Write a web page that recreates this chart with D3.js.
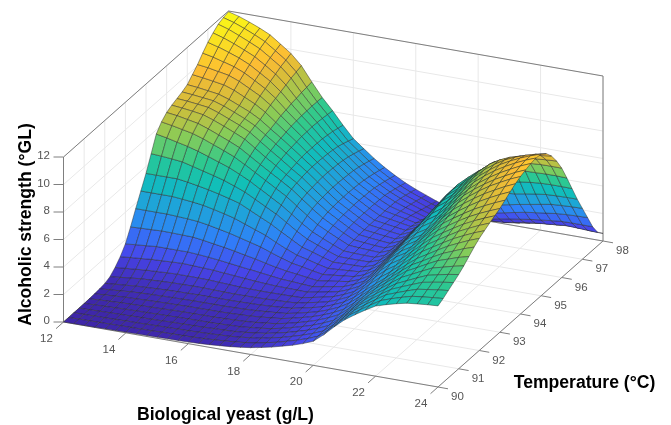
<!DOCTYPE html>
<html><head><meta charset="utf-8">
<script src="https://cdn.jsdelivr.net/npm/d3@7/dist/d3.min.js"></script>
<style>html,body{margin:0;padding:0;background:#fff}svg{display:block;filter:blur(.35px)}text{font-family:"Liberation Sans",Arial,sans-serif}</style>
</head><body><svg id="c" width="671" height="425"></svg>
<script>
const yeastTicks=[12,14,16,18,20,22,24];
const tempTicks=[90,91,92,93,94,95,96,97,98];
const alcoholTicks=[0,2,4,6,8,10,12];
const axisTitles=["Biological yeast (g/L)","Temperature (°C)","Alcoholic strength (°GL)"];
// one row per yeast step of 1/3 g/L, one value per temperature step of 0.25 °C
const alcoholRows=[
[0,0,.01,.01,.02,.03,.06,.09,.15,.3,.65,1.1,1.7,2.6,3.6,4.55,5.5,6.6,7.7,8.25,8.6,8.8,8.95,9.1,9.3,9.7,10.1,10.6,11.05,11.4,11.7,11.85,11.95],
[.01,.01,.02,.03,.05,.07,.11,.15,.22,.39,.72,1.17,1.77,2.64,3.6,4.55,5.5,6.55,7.55,8.12,8.5,8.72,8.89,9.03,9.22,9.6,10.0,10.44,10.84,11.17,11.46,11.63,11.74],
[.01,.02,.03,.05,.07,.1,.15,.2,.28,.47,.78,1.23,1.83,2.67,3.6,4.55,5.5,6.48,7.37,7.96,8.35,8.62,8.8,8.94,9.11,9.48,9.85,10.22,10.58,10.88,11.14,11.33,11.46],
[.02,.03,.04,.07,.1,.14,.2,.27,.35,.55,.85,1.3,1.9,2.7,3.6,4.55,5.5,6.4,7.2,7.8,8.2,8.5,8.7,8.85,9.0,9.35,9.7,10.0,10.3,10.55,10.8,11.0,11.15],
[.03,.04,.05,.08,.12,.16,.22,.3,.38,.58,.88,1.33,1.9,2.69,3.56,4.48,5.39,6.2,6.98,7.55,7.93,8.24,8.44,8.6,8.75,9.08,9.4,9.68,9.95,10.2,10.44,10.63,10.79],
[.04,.05,.07,.1,.14,.18,.25,.33,.42,.62,.92,1.37,1.9,2.67,3.51,4.4,5.25,6.0,6.72,7.25,7.62,7.93,8.12,8.28,8.43,8.72,9.0,9.25,9.48,9.71,9.93,10.1,10.25],
[.05,.06,.08,.11,.15,.2,.27,.35,.45,.65,.95,1.4,1.9,2.65,3.45,4.3,5.1,5.8,6.45,6.95,7.3,7.6,7.8,7.95,8.1,8.35,8.6,8.8,9.0,9.2,9.4,9.55,9.7],
[.06,.07,.09,.12,.17,.22,.29,.37,.47,.66,.94,1.37,1.85,2.55,3.32,4.13,4.92,5.58,6.18,6.63,6.96,7.25,7.42,7.56,7.68,7.88,8.07,8.23,8.38,8.54,8.7,8.82,8.95],
[.07,.08,.11,.14,.18,.24,.3,.38,.48,.67,.93,1.33,1.78,2.42,3.16,3.95,4.72,5.3,5.83,6.2,6.48,6.72,6.88,7.03,7.13,7.28,7.43,7.52,7.63,7.7,7.78,7.83,7.9],
[.08,.1,.12,.16,.2,.26,.32,.4,.5,.67,.92,1.3,1.7,2.3,3.0,3.75,4.5,5.0,5.45,5.75,6.0,6.2,6.35,6.5,6.6,6.7,6.8,6.85,6.9,6.92,6.93,6.92,6.9],
[.09,.11,.14,.17,.21,.26,.32,.4,.5,.65,.88,1.22,1.6,2.16,2.8,3.46,4.13,4.6,5.0,5.3,5.53,5.72,5.84,5.97,6.05,6.12,6.18,6.2,6.22,6.2,6.17,6.12,6.07],
[.1,.12,.15,.18,.22,.27,.33,.4,.5,.63,.84,1.15,1.5,2.0,2.6,3.18,3.76,4.2,4.55,4.85,5.07,5.2,5.3,5.4,5.47,5.5,5.5,5.5,5.48,5.42,5.35,5.25,5.15],
[.12,.14,.17,.2,.22,.27,.33,.4,.5,.62,.8,1.08,1.4,1.85,2.4,2.9,3.4,3.8,4.1,4.4,4.6,4.72,4.8,4.87,4.9,4.9,4.88,4.85,4.8,4.72,4.6,4.45,4.3],
[.15,.17,.2,.23,.24,.29,.35,.42,.51,.62,.78,1.02,1.3,1.67,2.12,2.52,2.95,3.3,3.58,3.84,4.02,4.13,4.2,4.26,4.3,4.3,4.27,4.24,4.18,4.1,3.98,3.85,3.7],
[.19,.21,.23,.25,.27,.32,.38,.44,.53,.63,.77,.97,1.2,1.5,1.85,2.17,2.52,2.8,3.03,3.27,3.44,3.55,3.6,3.65,3.68,3.68,3.65,3.62,3.57,3.49,3.38,3.26,3.12],
[.25,.26,.27,.28,.3,.35,.41,.48,.55,.65,.77,.93,1.1,1.35,1.6,1.85,2.1,2.35,2.55,2.75,2.9,3.0,3.05,3.08,3.1,3.1,3.08,3.05,3.0,2.92,2.83,2.72,2.6],
[.31,.32,.33,.35,.37,.41,.47,.53,.59,.68,.78,.92,1.06,1.26,1.47,1.67,1.87,2.05,2.2,2.36,2.48,2.56,2.6,2.63,2.64,2.65,2.63,2.61,2.56,2.48,2.38,2.27,2.15],
[.39,.4,.42,.44,.45,.49,.54,.59,.64,.71,.79,.9,1.0,1.15,1.31,1.46,1.62,1.75,1.87,1.99,2.07,2.13,2.17,2.19,2.2,2.2,2.2,2.18,2.15,2.07,1.97,1.86,1.74],
[.5,.51,.52,.54,.55,.58,.62,.66,.7,.75,.81,.88,.95,1.05,1.17,1.28,1.4,1.48,1.56,1.64,1.7,1.74,1.77,1.79,1.8,1.81,1.82,1.82,1.8,1.73,1.63,1.52,1.4],
[.64,.66,.68,.7,.71,.74,.78,.82,.86,.91,.96,1.02,1.08,1.16,1.25,1.33,1.42,1.47,1.52,1.58,1.62,1.65,1.67,1.68,1.68,1.67,1.65,1.6,1.53,1.44,1.34,1.23,1.1],
[.8,.82,.84,.87,.89,.92,.96,.99,1.02,1.07,1.12,1.16,1.21,1.27,1.33,1.38,1.43,1.47,1.5,1.54,1.55,1.57,1.57,1.57,1.56,1.53,1.49,1.41,1.3,1.18,1.05,.93,.8],
[1.0,1.03,1.05,1.08,1.1,1.13,1.16,1.18,1.2,1.24,1.28,1.31,1.35,1.38,1.41,1.43,1.45,1.47,1.48,1.5,1.5,1.5,1.49,1.47,1.45,1.4,1.32,1.2,1.05,.92,.8,.67,.55],
[1.2,1.24,1.27,1.3,1.33,1.37,1.41,1.45,1.49,1.53,1.57,1.6,1.64,1.66,1.68,1.7,1.72,1.75,1.77,1.79,1.8,1.8,1.8,1.8,1.8,1.73,1.6,1.4,1.15,.95,.75,.55,.4],
[1.45,1.49,1.53,1.57,1.62,1.67,1.72,1.77,1.82,1.87,1.92,1.97,2.02,2.08,2.14,2.2,2.26,2.31,2.36,2.39,2.42,2.47,2.52,2.57,2.6,2.5,2.2,1.75,1.28,.95,.65,.38,.22],
[1.75,1.79,1.84,1.9,1.95,2.03,2.1,2.2,2.3,2.4,2.5,2.6,2.72,2.81,2.9,2.98,3.05,3.13,3.2,3.28,3.35,3.42,3.48,3.55,3.6,3.4,2.9,2.2,1.5,1.05,.65,.33,.15],
[2.35,2.39,2.44,2.5,2.55,2.62,2.7,2.8,2.92,3.07,3.22,3.37,3.52,3.62,3.72,3.82,3.92,4.02,4.12,4.22,4.32,4.4,4.48,4.56,4.62,4.38,3.75,2.87,2.0,1.35,.8,.38,.15],
[3.05,3.08,3.12,3.17,3.22,3.28,3.36,3.43,3.52,3.68,3.85,4.0,4.15,4.25,4.35,4.45,4.55,4.7,4.85,5.0,5.15,5.25,5.33,5.4,5.45,5.18,4.42,3.4,2.35,1.6,.95,.45,.15],
[3.7,3.72,3.75,3.8,3.85,3.9,3.97,4.03,4.1,4.22,4.35,4.47,4.6,4.7,4.8,4.9,5.0,5.17,5.35,5.52,5.7,5.82,5.93,6.03,6.1,5.85,5.1,3.9,2.7,1.85,1.1,.5,.15],
[4.2,4.23,4.27,4.32,4.38,4.45,4.53,4.6,4.7,4.85,4.99,5.12,5.27,5.4,5.5,5.62,5.75,5.92,6.1,6.27,6.43,6.56,6.67,6.72,6.7,6.25,5.3,4.1,2.9,2.0,1.22,.62,.25],
[4.67,4.71,4.77,4.83,4.9,4.99,5.1,5.2,5.32,5.47,5.63,5.78,5.95,6.1,6.24,6.39,6.55,6.72,6.89,7.05,7.2,7.33,7.43,7.38,7.2,6.5,5.42,4.22,3.05,2.15,1.33,.75,.37],
[5.1,5.17,5.25,5.32,5.4,5.52,5.65,5.77,5.9,6.07,6.25,6.42,6.6,6.78,6.95,7.13,7.3,7.47,7.62,7.78,7.9,8.02,8.1,7.95,7.6,6.7,5.5,4.3,3.2,2.3,1.45,.85,.5],
[5.33,5.43,5.53,5.63,5.74,5.88,6.03,6.17,6.33,6.52,6.71,6.9,7.09,7.29,7.49,7.69,7.88,8.06,8.22,8.37,8.48,8.56,8.55,8.27,7.78,6.83,5.63,4.43,3.33,2.4,1.54,.92,.58],
[5.53,5.66,5.8,5.93,6.08,6.25,6.43,6.6,6.78,6.97,7.16,7.36,7.56,7.77,7.99,8.2,8.42,8.58,8.74,8.89,9.0,9.02,8.88,8.48,7.86,6.88,5.73,4.55,3.47,2.5,1.62,.98,.64],
[5.7,5.87,6.05,6.22,6.4,6.6,6.8,7.0,7.2,7.4,7.6,7.8,8.0,8.22,8.45,8.68,8.9,9.05,9.2,9.33,9.4,9.35,9.1,8.6,7.9,6.9,5.8,4.65,3.6,2.6,1.7,1.05,.7],
[5.78,5.96,6.16,6.36,6.57,6.79,7.05,7.3,7.54,7.76,7.96,8.17,8.37,8.6,8.85,9.08,9.3,9.45,9.6,9.72,9.75,9.62,9.28,8.7,7.95,6.93,5.82,4.68,3.65,2.65,1.71,1.02,.65],
[5.85,6.04,6.27,6.49,6.73,6.99,7.3,7.6,7.87,8.09,8.3,8.5,8.7,8.95,9.22,9.47,9.68,9.83,9.97,10.06,10.05,9.83,9.4,8.76,7.96,6.93,5.82,4.7,3.68,2.68,1.71,.98,.59],
[5.9,6.1,6.35,6.6,6.85,7.15,7.5,7.85,8.15,8.38,8.6,8.8,9.0,9.27,9.55,9.8,10.0,10.15,10.28,10.35,10.3,10.0,9.5,8.8,7.95,6.9,5.8,4.7,3.7,2.7,1.7,.95,.55]
];
const parulaStops=["#3e26a8","#4746eb","#2f80fa","#1fa3da","#10bfb9","#2fc98e","#87cc58","#d4bd3a","#fcbc34","#f9fb15"];
const parulaLevels=[0,1.33,2.67,4,5.33,6.5,7.6,8.8,9.8,12];

const svg=d3.select("#c");
const yeastX=d3.scaleLinear([12,24],[0,374.5]),yeastY=d3.scaleLinear([12,24],[0,65]);
const tempX=d3.scaleLinear([90,98],[0,165]),tempY=d3.scaleLinear([90,98],[0,-146]);
const zY=d3.scaleLinear([0,12],[0,-165]);
const color=d3.scaleLinear(parulaLevels,parulaStops).clamp(true);
const P=(y,t,z)=>[63.5+yeastX(y)+tempX(t),322+yeastY(y)+tempY(t)+zY(z)];
const seg=(g,a,b,stroke,w)=>g.append("line").attr("x1",a[0]).attr("y1",a[1]).attr("x2",b[0]).attr("y2",b[1]).attr("stroke",stroke).attr("stroke-width",w);

const grid=svg.append("g");
const gridC="#e8e8e8";
yeastTicks.forEach(y=>{seg(grid,P(y,90,0),P(y,98,0),gridC,1);seg(grid,P(y,98,0),P(y,98,12),gridC,1);});
tempTicks.forEach(t=>{seg(grid,P(12,t,0),P(24,t,0),gridC,1);seg(grid,P(12,t,0),P(12,t,12),gridC,1);});
alcoholTicks.forEach(z=>{seg(grid,P(12,90,z),P(12,98,z),gridC,1);seg(grid,P(12,98,z),P(24,98,z),gridC,1);});

const box=svg.append("g"),boxC="#7f7f7f";
[[[12,90,0],[12,90,12]],[[12,90,12],[12,98,12]],[[12,98,12],[24,98,12]],[[24,98,12],[24,98,0]],[[12,90,0],[24,90,0]],[[24,90,0],[24,98,0]],[[12,98,0],[24,98,0]],[[12,90,0],[12,98,0]]]
 .forEach(([a,b])=>seg(box,P(...a),P(...b),boxC,1));

const labels=svg.append("g").attr("fill","#555").attr("font-size",11.5);
alcoholTicks.forEach(z=>{const p=P(12,90,z);seg(box,p,[p[0]-10,p[1]],boxC,1);
 labels.append("text").attr("x",p[0]-13.5).attr("y",p[1]-2).attr("dy",".35em").attr("text-anchor","end").text(z);});
yeastTicks.forEach(y=>{const p=P(y,90,0);seg(box,p,[p[0]-7.5,p[1]+6.7],boxC,1);
 labels.append("text").attr("x",p[0]-17).attr("y",p[1]+16).attr("dy",".35em").attr("text-anchor","middle").text(y);});
tempTicks.forEach(t=>{const p=P(24,t,0);seg(box,p,[p[0]+10,p[1]+1.8],boxC,1);
 labels.append("text").attr("x",p[0]+19.5).attr("y",p[1]+9).attr("dy",".35em").attr("text-anchor","middle").text(t);});

const yeastGrid=d3.range(alcoholRows.length).map(i=>12+i/3);
const tempGrid=d3.range(alcoholRows[0].length).map(j=>90+j/4);
const cells=[];
for(let i=0;i<yeastGrid.length-1;i++)for(let j=0;j<tempGrid.length-1;j++){
 const c=[[i,j],[i+1,j],[i+1,j+1],[i,j+1]].map(([a,b])=>[yeastGrid[a],tempGrid[b],alcoholRows[a][b]]);
 const m=d3.mean(c,d=>d[2]);
 cells.push({c,m,depth:d3.mean(c,d=>d[0]*.29-d[1]+d[2]*.7)});
}
cells.sort((a,b)=>a.depth-b.depth);
svg.append("g").selectAll("polygon").data(cells).join("polygon")
 .attr("points",d=>d.c.map(p=>P(...p).map(v=>v.toFixed(2)).join(",")).join(" "))
 .attr("fill",d=>color(d.m)).attr("stroke","#2b2b2b").attr("stroke-opacity",.72).attr("stroke-width",.65).attr("stroke-linejoin","round");

const titles=svg.append("g").attr("font-weight","bold").attr("fill","#000").attr("font-size",17.6);
titles.append("text").attr("x",225.5).attr("y",414).attr("dy",".35em").attr("text-anchor","middle").text(axisTitles[0]);
titles.append("text").attr("x",584.5).attr("y",382).attr("dy",".35em").attr("text-anchor","middle").text(axisTitles[1]);
titles.append("text").attr("transform","translate(25,224.5) rotate(-90)").attr("dy",".35em").attr("text-anchor","middle").text(axisTitles[2]);
</script></body></html>
